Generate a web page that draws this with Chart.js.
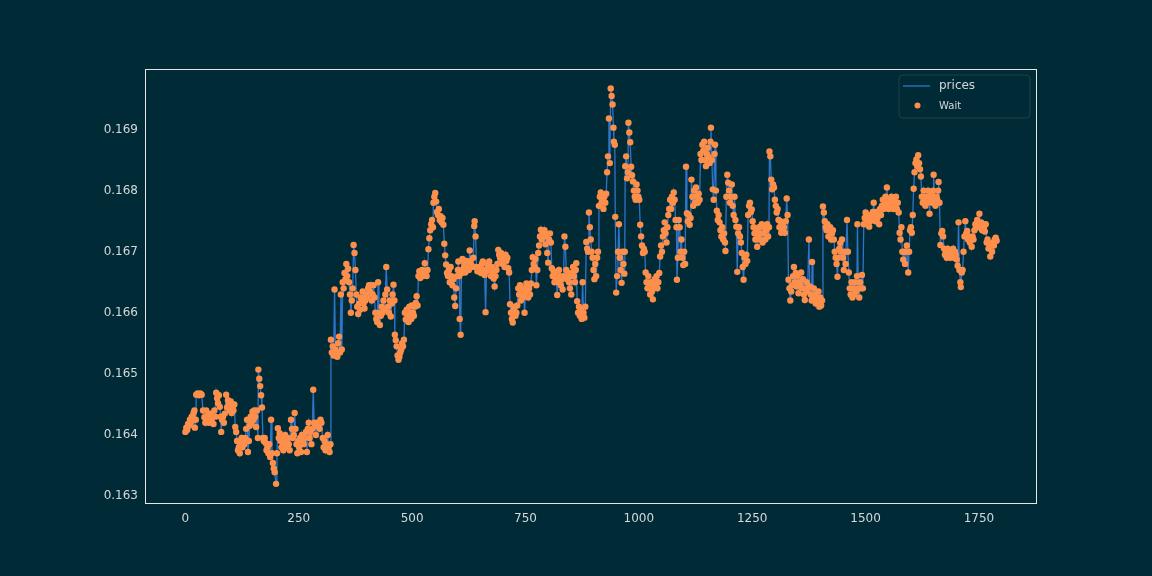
<!DOCTYPE html>
<html>
<head>
<meta charset="utf-8">
<script src="https://cdn.jsdelivr.net/npm/chart.js@4/dist/chart.umd.min.js"></script>
<style>
html,body{margin:0;padding:0;background:#002b36;}
canvas{display:block;}
</style>
</head>
<body>
<canvas id="c" width="1152" height="576"></canvas>
<script>
const xIdx = [
0,2,4,6,8,10,12,14,16,18,20,21,23,24,27,30,33,36,39,42,
44,46,48,50,52,54,56,58,60,62,64,66,68,70,72,74,76,78,79,81,
83,85,87,90,92,94,96,98,100,102,104,106,108,110,112,114,116,118,120,122,
124,126,128,130,132,134,136,138,140,142,144,146,148,150,152,154,156,158,160,161,
163,165,167,169,171,173,175,177,179,181,183,185,187,189,191,193,195,197,200,202,
204,206,208,210,212,214,216,218,220,222,224,226,228,230,233,235,237,239,241,243,
245,247,249,251,253,255,257,259,261,263,266,268,270,272,274,276,278,280,282,284,
286,288,290,292,294,296,298,300,303,305,307,309,311,314,316,318,320,321,323,325,
327,329,331,333,335,337,339,341,343,345,347,349,351,353,355,357,359,361,363,365,
367,369,371,373,375,377,379,381,383,385,387,389,391,393,395,397,399,401,403,405,
407,409,411,413,415,417,419,421,423,425,427,429,431,433,435,437,439,441,443,445,
447,449,451,453,455,457,459,461,462,464,466,468,470,472,474,476,478,480,482,484,
486,488,490,492,494,496,498,500,502,504,506,508,510,512,514,516,518,520,522,524,
526,528,530,532,534,536,538,540,542,544,546,547,549,551,553,555,557,559,561,563,
565,567,569,571,573,575,577,579,581,583,585,587,589,591,593,595,597,599,601,602,
604,605,607,609,611,613,615,617,619,621,623,625,627,629,631,633,635,637,638,640,
642,644,646,648,650,652,654,656,658,660,662,664,666,668,670,672,674,676,678,680,
682,684,686,688,690,692,694,696,698,700,702,704,706,708,710,712,714,716,718,720,
722,724,726,728,730,732,734,736,738,740,742,744,746,748,750,752,754,756,758,760,
762,764,766,768,770,772,774,776,778,780,782,784,786,788,790,792,794,796,798,800,
802,804,806,808,810,812,814,816,818,820,822,824,826,828,830,832,834,836,838,840,
842,844,846,848,850,851,853,855,857,859,861,862,864,866,868,870,872,874,876,878,
880,882,884,886,888,890,892,894,896,898,900,902,904,906,908,910,912,914,916,918,
920,922,924,926,928,930,932,934,936,938,940,942,944,945,947,948,950,952,954,956,
958,960,962,964,966,968,969,970,972,974,976,977,979,981,983,985,987,989,991,993,
995,997,999,1001,1003,1005,1007,1009,1011,1013,1015,1017,1019,1021,1023,1025,1027,1029,1031,1033,
1035,1037,1039,1041,1043,1045,1047,1049,1051,1053,1055,1057,1059,1061,1063,1065,1067,1069,1071,1073,
1075,1077,1079,1081,1083,1084,1086,1088,1090,1092,1094,1096,1098,1100,1102,1104,1106,1108,1110,1112,
1114,1116,1118,1120,1122,1124,1126,1128,1130,1132,1134,1136,1138,1140,1142,1144,1146,1148,1150,1152,
1154,1156,1158,1159,1161,1163,1165,1167,1168,1170,1172,1174,1176,1178,1180,1182,1184,1186,1188,1190,
1191,1193,1195,1197,1199,1201,1203,1205,1207,1209,1211,1213,1215,1217,1219,1221,1223,1225,1227,1229,
1231,1233,1235,1237,1239,1241,1243,1245,1247,1249,1251,1253,1255,1257,1259,1261,1263,1265,1267,1269,
1271,1273,1275,1277,1279,1281,1283,1285,1287,1288,1290,1292,1294,1296,1298,1300,1302,1304,1306,1308,
1310,1312,1314,1316,1318,1320,1322,1324,1326,1328,1330,1332,1334,1336,1338,1340,1342,1344,1346,1348,
1350,1352,1354,1356,1358,1360,1362,1364,1366,1368,1370,1372,1375,1377,1379,1381,1382,1384,1386,1388,
1390,1392,1394,1396,1398,1400,1402,1404,1406,1408,1410,1412,1414,1416,1418,1420,1422,1424,1426,1428,
1430,1432,1434,1436,1438,1440,1442,1444,1446,1448,1450,1452,1454,1456,1459,1461,1463,1465,1467,1469,
1471,1473,1475,1477,1479,1481,1482,1484,1486,1488,1490,1492,1494,1496,1498,1500,1502,1504,1506,1508,
1510,1512,1514,1516,1518,1520,1522,1524,1526,1528,1530,1532,1534,1536,1538,1540,1542,1544,1546,1547,
1549,1551,1553,1555,1557,1559,1561,1563,1565,1567,1569,1571,1573,1575,1577,1579,1581,1583,1585,1587,
1589,1591,1594,1596,1598,1600,1602,1604,1606,1608,1610,1612,1614,1616,1618,1620,1622,1624,1626,1628,
1630,1632,1634,1636,1638,1640,1641,1643,1645,1647,1649,1650,1652,1654,1656,1658,1660,1661,1663,1665,
1667,1669,1671,1673,1675,1677,1679,1681,1683,1685,1687,1689,1691,1693,1695,1697,1699,1701,1703,1705,
1707,1709,1710,1712,1714,1716,1718,1720,1722,1724,1726,1728,1730,1732,1734,1736,1738,1740,1742,1744,
1746,1748,1750,1751,1753,1755,1757,1759,1761,1763,1765,1767,1769,1771,1773,1775,1777,1779,1781,1783,
1785,1787,1789
];

const prices = [
.16405,.16412,.16408,.16418,.16415,.16425,.16420,.16430,.16428,.16436,.16440,.16412,.16425,.16466,.16468,.16465,.16468,.16466,.16440,.16429,
.16420,.16440,.16425,.16432,.16420,.16428,.16435,.16422,.16430,.16418,.16440,.16430,.16469,.16460,.16452,.16465,.16446,.16430,.16405,.16425,
.16430,.16420,.16435,.16466,.16445,.16457,.16450,.16440,.16455,.16436,.16445,.16440,.16450,.16413,.16405,.16390,.16375,.16380,.16370,.16385,
.16395,.16380,.16390,.16385,.16395,.16410,.16425,.16372,.16390,.16415,.16430,.16420,.16438,.16425,.16440,.16430,.16413,.16440,.16395,.16507,
.16492,.16480,.16465,.16445,.16395,.16390,.16395,.16387,.16375,.16380,.16370,.16385,.16364,.16425,.16370,.16354,.16345,.16339,.16320,.16370,
.16411,.16395,.16403,.16390,.16380,.16395,.16375,.16385,.16400,.16390,.16380,.16395,.16385,.16375,.16425,.16410,.16395,.16400,.16436,.16410,
.16385,.16370,.16390,.16380,.16395,.16372,.16400,.16390,.16385,.16395,.16405,.16372,.16410,.16420,.16395,.16405,.16385,.16410,.16474,.16420,
.16415,.16400,.16420,.16415,.16420,.16410,.16425,.16420,.16395,.16380,.16390,.16375,.16385,.16400,.16380,.16372,.16385,.16556,.16535,.16545,
.16530,.16638,.16540,.16530,.16528,.16550,.16561,.16535,.16630,.16540,.16650,.16640,.16665,.16655,.16680,.16660,.16672,.16650,.16630,.16600,
.16620,.16640,.16711,.16698,.16670,.16630,.16610,.16598,.16615,.16605,.16625,.16620,.16635,.16615,.16607,.16620,.16630,.16625,.16640,.16645,
.16635,.16645,.16620,.16630,.16645,.16625,.16600,.16590,.16585,.16650,.16600,.16580,.16595,.16610,.16600,.16620,.16605,.16630,.16675,.16638,
.16610,.16600,.16620,.16594,.16615,.16630,.16646,.16620,.16564,.16555,.16545,.16530,.16523,.16528,.16535,.16540,.16550,.16545,.16556,.16600,
.16589,.16605,.16596,.16585,.16610,.16600,.16590,.16612,.16600,.16595,.16610,.16616,.16627,.16612,.16660,.16668,.16657,.16665,.16670,.16660,
.16668,.16681,.16665,.16660,.16670,.16704,.16722,.16735,.16745,.16752,.16740,.16780,.16790,.16796,.16782,.16765,.16760,.16770,.16752,.16758,
.16748,.16755,.16744,.16713,.16694,.16679,.16665,.16660,.16670,.16650,.16675,.16660,.16645,.16655,.16625,.16611,.16640,.16660,.16670,.16684,
.16660,.16590,.16564,.16665,.16688,.16672,.16680,.16666,.16685,.16675,.16680,.16670,.16702,.16685,.16678,.16675,.16690,.16742,.16750,.16725,
.16675,.16668,.16672,.16670,.16675,.16665,.16680,.16684,.16670,.16662,.16601,.16668,.16680,.16675,.16684,.16670,.16660,.16675,.16665,.16656,
.16643,.16660,.16670,.16680,.16703,.16695,.16690,.16698,.16685,.16680,.16690,.16675,.16695,.16685,.16690,.16673,.16666,.16614,.16600,.16590,
.16584,.16605,.16610,.16595,.16600,.16612,.16640,.16630,.16645,.16620,.16635,.16625,.16640,.16600,.16630,.16648,.16635,.16625,.16640,.16630,
.16648,.16670,.16691,.16680,.16675,.16688,.16645,.16670,.16698,.16710,.16725,.16736,.16720,.16730,.16725,.16735,.16712,.16728,.16698,.16682,
.16720,.16730,.16715,.16673,.16660,.16668,.16650,.16665,.16655,.16629,.16650,.16670,.16660,.16645,.16655,.16638,.16660,.16725,.16708,.16670,
.16655,.16665,.16650,.16640,.16660,.16630,.16665,.16675,.16660,.16650,.16670,.16681,.16619,.16600,.16610,.16595,.16605,.16590,.16650,.16600,
.16592,.16610,.16716,.16705,.16700,.16764,.16740,.16720,.16700,.16690,.16670,.16655,.16680,.16660,.16690,.16700,.16775,.16790,.16797,.16780,
.16785,.16770,.16790,.16780,.16795,.16830,.16856,.16918,.16845,.16967,.16955,.16941,.16903,.16880,.16875,.16757,.16633,.16660,.16700,.16745,
.16690,.16670,.16649,.16700,.16680,.16664,.16700,.16840,.16856,.16820,.16830,.16911,.16895,.16879,.16839,.16825,.16815,.16800,.16790,.16785,
.16810,.16800,.16790,.16785,.16744,.16725,.16710,.16698,.16705,.16700,.16666,.16650,.16640,.16660,.16645,.16630,.16650,.16635,.16622,.16640,
.16655,.16645,.16660,.16640,.16650,.16665,.16692,.16710,.16700,.16725,.16735,.16748,.16730,.16715,.16740,.16760,.16770,.16785,.16770,.16790,
.16780,.16797,.16785,.16752,.16740,.16654,.16690,.16752,.16740,.16700,.16720,.16690,.16678,.16700,.16680,.16839,.16763,.16750,.16760,.16744,
.16755,.16818,.16790,.16775,.16800,.16780,.16805,.16790,.16780,.16795,.16785,.16860,.16850,.16875,.16865,.16880,.16850,.16840,.16860,.16870,
.16855,.16845,.16880,.16903,.16850,.16802,.16785,.16860,.16875,.16800,.16767,.16752,.16760,.16748,.16735,.16725,.16740,.16720,.16730,.16715,
.16701,.16790,.16826,.16813,.16800,.16780,.16790,.16810,.16775,.16760,.16790,.16752,.16741,.16667,.16730,.16740,.16725,.16715,.16698,.16675,
.16654,.16690,.16680,.16695,.16685,.16760,.16775,.16780,.16765,.16769,.16750,.16740,.16730,.16720,.16735,.16708,.16725,.16740,.16720,.16730,
.16745,.16715,.16730,.16740,.16720,.16735,.16745,.16725,.16740,.16864,.16856,.16818,.16802,.16810,.16805,.16785,.16775,.16764,.16770,.16752,
.16740,.16750,.16731,.16745,.16735,.16740,.16731,.16750,.16787,.16760,.16654,.16640,.16620,.16635,.16645,.16660,.16675,.16650,.16665,.16643,
.16660,.16632,.16650,.16645,.16666,.16640,.16655,.16630,.16621,.16640,.16650,.16635,.16720,.16643,.16630,.16620,.16683,.16625,.16640,.16630,
.16615,.16625,.16620,.16635,.16610,.16625,.16612,.16620,.16774,.16764,.16750,.16740,.16735,.16745,.16725,.16735,.16740,.16720,.16730,.16735,
.16720,.16700,.16690,.16680,.16659,.16690,.16705,.16714,.16700,.16720,.16690,.16670,.16700,.16680,.16752,.16700,.16666,.16640,.16630,.16650,
.16625,.16640,.16630,.16650,.16635,.16660,.16745,.16640,.16625,.16650,.16640,.16662,.16640,.16745,.16755,.16764,.16745,.16750,.16760,.16741,
.16750,.16760,.16752,.16765,.16780,.16760,.16750,.16765,.16755,.16760,.16745,.16770,.16760,.16775,.16785,.16770,.16780,.16790,.16775,.16805,
.16780,.16770,.16785,.16775,.16790,.16780,.16770,.16785,.16775,.16790,.16770,.16780,.16764,.16731,.16720,.16740,.16700,.16687,.16700,.16680,
.16700,.16710,.16666,.16700,.16735,.16740,.16731,.16760,.16803,.16830,.16845,.16851,.16840,.16858,.16845,.16835,.16823,.16790,.16780,.16800,
.16790,.16775,.16790,.16780,.16800,.16790,.16762,.16785,.16795,.16780,.16800,.16826,.16790,.16775,.16790,.16785,.16800,.16814,.16780,.16711,
.16730,.16734,.16725,.16705,.16695,.16700,.16690,.16705,.16695,.16700,.16690,.16700,.16695,.16705,.16690,.16700,.16695,.16687,.16677,.16748,
.16670,.16650,.16642,.16666,.16670,.16700,.16725,.16750,.16730,.16734,.16720,.16725,.16715,.16720,.16708,.16725,.16720,.16735,.16745,.16740,
.16752,.16740,.16745,.16762,.16740,.16748,.16735,.16745,.16740,.16733,.16745,.16715,.16720,.16705,.16710,.16692,.16710,.16700,.16715,.16710,
.16720,.16723,.16718
];

const waitIdx = xIdx;
const waitPrices = prices;

const xTicks = [0,250,500,750,1000,1250,1500,1750];
const yTicks = [0.163,0.164,0.165,0.166,0.167,0.168,0.169];

const BG = '#002b36';
const LINE = '#2f74c8';
const DOT = '#fd8f4b';
const TXT = '#d4d8d9';

const bgPlugin = {
  id: 'bg',
  beforeDraw(chart) {
    const ctx = chart.ctx;
    ctx.save();
    ctx.fillStyle = BG;
    ctx.fillRect(0, 0, chart.width, chart.height);
    ctx.restore();
  },
  afterDraw(chart) {
    const ctx = chart.ctx, a = chart.chartArea;
    ctx.save();
    ctx.strokeStyle = '#e6e6e6';
    ctx.lineWidth = 1;
    ctx.strokeRect(Math.round(a.left) + 0.5, Math.round(a.top) + 0.5, Math.round(a.right - a.left) - 1, Math.round(a.bottom - a.top) - 1);
    const lx = 899, ly = 75, lw = 131, lh = 43, r = 4;
    ctx.beginPath();
    ctx.moveTo(lx + r, ly);
    ctx.arcTo(lx + lw, ly, lx + lw, ly + lh, r);
    ctx.arcTo(lx + lw, ly + lh, lx, ly + lh, r);
    ctx.arcTo(lx, ly + lh, lx, ly, r);
    ctx.arcTo(lx, ly, lx + lw, ly, r);
    ctx.closePath();
    ctx.fillStyle = 'rgba(0,43,54,0.85)';
    ctx.fill();
    ctx.strokeStyle = '#1f414b';
    ctx.lineWidth = 1;
    ctx.stroke();
    ctx.strokeStyle = LINE;
    ctx.lineWidth = 1.3;
    ctx.beginPath();
    ctx.moveTo(903, 86);
    ctx.lineTo(930, 86);
    ctx.stroke();
    ctx.fillStyle = DOT;
    ctx.beginPath();
    ctx.arc(917.5, 105.5, 3, 0, Math.PI * 2);
    ctx.fill();
    ctx.fillStyle = TXT;
    ctx.textBaseline = 'middle';
    ctx.textAlign = 'left';
    ctx.font = '12px "DejaVu Sans"';
    ctx.fillText('prices', 939, 86);
    ctx.font = '10px "DejaVu Sans"';
    ctx.fillText('Wait', 939, 106);
    ctx.restore();
  }
};

new Chart(document.getElementById('c'), {
  type: 'line',
  data: {
    datasets: [
      {
        label: 'Wait',
        data: waitIdx.map((x, i) => ({ x: x, y: waitPrices[i] })),
        showLine: false,
        pointRadius: 3.2,
        pointBorderWidth: 0,
        pointBackgroundColor: DOT,
        pointBorderColor: DOT,
        backgroundColor: DOT,
        borderColor: DOT
      },
      {
        label: 'prices',
        data: xIdx.map((x, i) => ({ x: x, y: prices[i] })),
        borderColor: LINE,
        borderWidth: 1.3,
        pointRadius: 0,
        tension: 0,
        fill: false
      }
    ]
  },
  options: {
    responsive: false,
    animation: false,
    events: [],
    layout: { padding: { top: 69, right: 115, left: 0, bottom: 0 } },
    plugins: { legend: { display: false }, tooltip: { enabled: false } },
    scales: {
      x: {
        type: 'linear',
        min: -89,
        max: 1878,
        grid: { display: false, drawTicks: false },
        border: { display: false },
        afterFit(s) { s.height = 72; },
        afterBuildTicks(s) { s.ticks = xTicks.map(v => ({ value: v })); },
        ticks: {
          color: TXT,
          font: { family: 'DejaVu Sans', size: 12 },
          padding: 8,
          maxRotation: 0,
          autoSkip: false,
          callback: v => String(v)
        }
      },
      y: {
        type: 'linear',
        min: 0.16287,
        max: 0.16999,
        grid: { display: false, drawTicks: false },
        border: { display: false },
        afterFit(s) { s.width = 145; },
        afterBuildTicks(s) { s.ticks = yTicks.map(v => ({ value: v })); },
        ticks: {
          color: TXT,
          font: { family: 'DejaVu Sans', size: 12 },
          padding: 7,
          autoSkip: false,
          callback: v => v.toFixed(3)
        }
      }
    }
  },
  plugins: [bgPlugin]
});
</script>
</body>
</html>
